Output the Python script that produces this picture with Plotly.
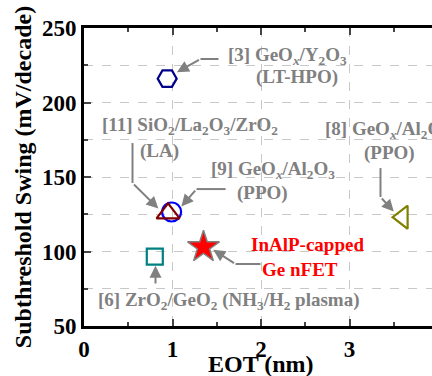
import plotly.graph_objects as go

# ---- data ----
labels = ["[3] LT-HPO", "[9] PPO", "[11] LA", "[6] NH3/H2 plasma", "This work", "[8] PPO"]
eot = [0.94, 0.99, 0.95, 0.80, 1.35, 3.60]
ss = [216.0, 126.5, 125.6, 96.5, 103.0, 123.0]
symbols = ["hexagon2-open", "circle-open", "triangle-up-open", "square-open", "star", "triangle-left-open"]
colors = ["#00008B", "#0000FF", "#800000", "#008080", "#FF0000", "#808000"]
sizes = [19, 19, 20, 16, 24, 20]

x_ticks = [0, 1, 2, 3]
y_ticks = [50, 100, 150, 200, 250]
x_title = "EOT (nm)"
y_title = "Subthreshold Swing (mV/decade)"

FONT = "Liberation Serif, Times New Roman, Times, serif"
GRAY = "#808080"

fig = go.Figure()
for i in range(len(eot)):
    is_star = symbols[i] == "star"
    fig.add_trace(go.Scatter(
        x=[eot[i]], y=[ss[i]], mode="markers", name=labels[i],
        marker=dict(symbol=symbols[i], size=sizes[i], color=colors[i],
                    line=dict(color=GRAY if is_star else colors[i], width=1.5 if is_star else 2.2)),
        showlegend=False, hoverinfo="skip"))

# text annotations (x, y, text, color)
texts = [
    (2.30, 231.3, "<b>[3] GeO<sub><i>x</i></sub>/Y<sub>2</sub>O<sub>3</sub></b>", GRAY),
    (2.41, 216.8, "<b>(LT-HPO)</b>", GRAY),
    (1.20, 184.0, "<b>[11] SiO<sub>2</sub>/La<sub>2</sub>O<sub>3</sub>/ZrO<sub>2</sub></b>", GRAY),
    (0.85, 167.5, "<b>(LA)</b>", GRAY),
    (2.14, 155.0, "<b>[9] GeO<sub><i>x</i></sub>/Al<sub>2</sub>O<sub>3</sub></b>", GRAY),
    (2.02, 139.6, "<b>(PPO)</b>", GRAY),
    (3.42, 181.7, "<b>[8] GeO<sub><i>x</i></sub>/Al<sub>2</sub>O<sub>3</sub></b>", GRAY),
    (3.45, 166.2, "<b>(PPO)</b>", GRAY),
    (2.52, 104.5, "<b>InAlP-capped</b>", "#FF0000"),
    (2.44, 88.2, "<b>Ge nFET</b>", "#FF0000"),
    (1.64, 66.5, "<b>[6] ZrO<sub>2</sub>/GeO<sub>2</sub> (NH<sub>3</sub>/H<sub>2</sub> plasma)</b>", GRAY),
]
annotations = []
for x, y, t, c in texts:
    annotations.append(dict(x=x, y=y, xref="x", yref="y", text=t, showarrow=False,
                            xanchor="center", yanchor="middle",
                            font=dict(family=FONT, size=19, color=c)))

# arrows: (tip x, tip y, tail x, tail y)
arrows = [
    (1.05, 220.3, 1.316, 229.2),
    (0.84, 128.8, 0.548, 146.0),
    (1.10, 130.2, 1.271, 141.9),
    (3.50, 126.8, 3.350, 136.6),
    (1.46, 101.2, 1.712, 91.6),
    (0.808, 90.5, 0.808, 77.5),
]
for tx, ty, sx, sy in arrows:
    annotations.append(dict(x=tx, y=ty, ax=sx, ay=sy, xref="x", yref="y", axref="x", ayref="y",
                            text="", showarrow=True, arrowhead=2, arrowsize=1.2,
                            arrowwidth=2, arrowcolor=GRAY))

titlefont = dict(family=FONT, size=24, color="black", weight="bold")
# x-axis title as an annotation (centred under the full 0-4 axis)
annotations.append(dict(x=2.0, y=-0.128, xref="x", yref="paper", text=x_title, showarrow=False,
                        xanchor="center", yanchor="middle", font=titlefont))

# straight leader segments
segments = [
    (1.52, 229.2, 1.316, 229.2),
    (0.548, 172.8, 0.548, 146.0),
    (1.60, 141.9, 1.271, 141.9),
    (3.350, 156.0, 3.350, 136.6),
    (1.994, 91.6, 1.712, 91.6),
]
shapes = [dict(type="line", xref="x", yref="y", x0=a, y0=b, x1=c, y1=d,
               line=dict(color=GRAY, width=2)) for a, b, c, d in segments]

tickfont = dict(family=FONT, size=23, color="black", weight="bold")

fig.update_layout(
    width=432, height=376,
    margin=dict(l=84, r=0, t=28, b=50),
    plot_bgcolor="white", paper_bgcolor="white",
    font=dict(family=FONT),
    annotations=annotations, shapes=shapes,
    xaxis=dict(range=[0, 3.932], tickvals=x_ticks, ticks="inside", ticklen=7, tickwidth=2,
               showline=True, linewidth=3, linecolor="black", mirror="ticks",
               showgrid=True, gridcolor="#c8c8c8", griddash="dash", gridwidth=1,
               zeroline=False, tickfont=tickfont, automargin=False,
               minor=dict(dtick=0.5, ticks="inside", ticklen=4, tickwidth=2, showgrid=False)),
    yaxis=dict(range=[50, 250], tickvals=y_ticks, ticks="inside", ticklen=7, tickwidth=2,
               showline=True, linewidth=3, linecolor="black", mirror=False,
               showgrid=True, gridcolor="#c8c8c8", griddash="dash", gridwidth=1,
               zeroline=False, tickfont=tickfont, automargin=False,
               minor=dict(dtick=25, tick0=50, ticks="inside", ticklen=4, tickwidth=2,
                          showgrid=True, gridcolor="#c8c8c8", griddash="dash", gridwidth=1),
               title=dict(text=y_title, font=titlefont, standoff=4)),
    yaxis2=dict(range=[50, 250], overlaying="y", side="right", tickvals=y_ticks,
                ticks="inside", ticklen=2, tickwidth=2, tickcolor="black",
                showticklabels=False, showline=False, showgrid=False, zeroline=False),
)

fig.write_html("out.html")
